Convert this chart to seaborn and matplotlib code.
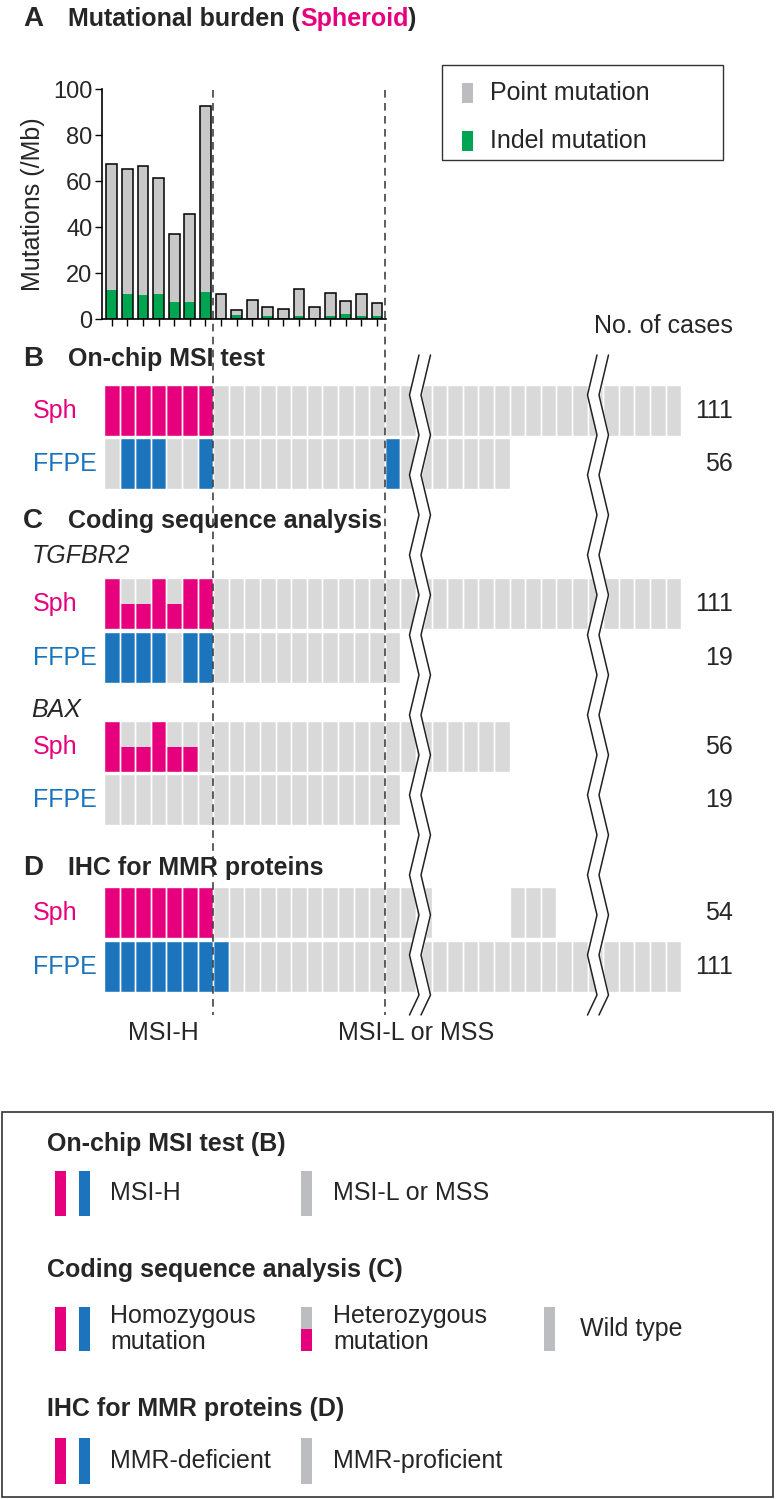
import numpy as np
import pandas as pd
import matplotlib
matplotlib.use('Agg')
import matplotlib.pyplot as plt
import seaborn as sns
from matplotlib.patches import Rectangle

# mutational burden per spheroid (panel A), mutations / Mb
burden_total = [67.3, 65.1, 66.6, 61.2, 37.1, 45.6, 92.7, 10.8, 3.8,
                8.4, 5.4, 4.5, 13.1, 5.4, 11.5, 7.8, 10.8, 6.8]
burden_indel = [12.8, 11.0, 10.3, 11.0, 7.3, 7.3, 11.9, 0.3, 1.9,
                0.3, 1.2, 0.3, 1.2, 0.3, 1.2, 2.0, 1.2, 1.2]

# one character per case: P = positive / homozygous, h = heterozygous,
# g = negative / wild type, . = not tested
msi_sph = "PPPPPPP" "gggggggggg" "gggggggggg" "gggggggggg"
msi_ffpe = "gPPPggP" "ggggggggggg" "P" "ggggggg"
tgfbr2_sph = "PhhPhPP" "gggggggggg" "gggggggggg" "gggggggggg"
tgfbr2_ffpe = "PPPPgPP" "gggggggggggg"
bax_sph = "PhhPhhg" "ggggggggggggggggggg"
bax_ffpe = "ggggggggggggggggggg"
ihc_sph = "PPPPPPP" "gggggggggggggg" "....." "ggg"
ihc_ffpe = "PPPPPPPP" "gggggggggg" "gggggggggg" "ggggggggg"
case_counts = ["111", "56", "111", "19", "56", "19", "54", "111"]

PINK = '#E6007E'
BLUE = '#1C75BC'
CELL_GRAY = '#D9D9D9'
BAR_GRAY = '#C8C8C8'
KEY_GRAY = '#BCBDC0'
GREEN = '#00A551'

W, H = 778, 1499
X0, CW = 104, 15.6       # left edge and width of one case cell (px)
ROW_H = 51

sns.set_theme(style='white')
plt.rcParams['font.family'] = ['Liberation Sans', 'DejaVu Sans']
FS = 18

fig = plt.figure(figsize=(W / 100, H / 100), dpi=100)

# cell grid: x in case units, y in pixels
grid = fig.add_axes([0, 0, 1, 1])
grid.set_xlim(-X0 / CW, (W - X0) / CW)
grid.set_ylim(H, 0)
grid.axis('off')


def draw_row(states, top, color):
    states = np.array(list(states))
    idx = np.arange(len(states))
    keep = states != '.'
    face = [color if s == 'P' else CELL_GRAY for s in states[keep]]
    grid.bar(idx[keep], ROW_H, bottom=top, width=1, align='edge',
             color=face, linewidth=0)
    het = states == 'h'
    grid.bar(idx[het], ROW_H / 2, bottom=top + ROW_H / 2, width=1,
             align='edge', color=color, linewidth=0)
    grid.bar(idx[keep], ROW_H, bottom=top, width=1, align='edge',
             fill=False, edgecolor='white', linewidth=1.0)


rows = [msi_sph, msi_ffpe, tgfbr2_sph, tgfbr2_ffpe, bax_sph, bax_ffpe,
        ihc_sph, ihc_ffpe]
row_tops = [385, 438, 578, 632, 721, 774, 887, 941]
for i, (states, top) in enumerate(zip(rows, row_tops)):
    draw_row(states, top, PINK if i % 2 == 0 else BLUE)

n_msi_h = msi_sph.count('P')
grid.vlines([n_msi_h, len(burden_total)], 90, 1015, colors='#333333',
            linestyles=(0, (5, 3.5)), linewidth=1.1)

# panel A bars
axA = fig.add_axes([102 / W, 1 - 319 / H, (386 - 102) / W, (319 - 89) / H])
axA.patch.set_alpha(0)
df = pd.DataFrame({'case': np.arange(len(burden_total)),
                   'total': burden_total, 'indel': burden_indel})
sns.barplot(data=df, x='case', y='total', color=BAR_GRAY, saturation=1,
            width=0.7, linewidth=0, errorbar=None, ax=axA)
sns.barplot(data=df, x='case', y='indel', color=GREEN, saturation=1,
            width=0.7, linewidth=0, errorbar=None, ax=axA)
sns.barplot(data=df, x='case', y='total', color='black', fill=False,
            width=0.7, linewidth=1.1, errorbar=None, ax=axA)
axA.set_xlim((102 - X0) / CW - 0.5, (386 - X0) / CW - 0.5)
axA.set_ylim(0, 100)
axA.set_yticks(range(0, 101, 20))
axA.set_xticks(df['case'])
axA.set_xticklabels([])
axA.set_xlabel('')
axA.set_ylabel('Mutations (/Mb)', fontsize=FS, labelpad=6)
axA.tick_params(axis='both', bottom=True, left=True, length=5, width=1,
                direction='out', color='black', labelsize=17, pad=2)
sns.despine(ax=axA)
for s in ['left', 'bottom']:
    axA.spines[s].set_linewidth(1.2)
    axA.spines[s].set_color('black')

# annotation layer in pixels
px = fig.add_axes([0, 0, 1, 1])
px.set_xlim(0, W)
px.set_ylim(H, 0)
px.axis('off')
px.patch.set_alpha(0)


def zigzag(xl, y0, y1, step=40, amp=9.5, gap=11.5):
    ys = np.append(np.arange(y0, y1, step), y1)
    off = np.where(np.arange(len(ys)) % 2 == 0, amp, 0)
    left = xl + off
    px.fill_betweenx(ys, left, left + gap, color='white', zorder=3)
    px.plot(left, ys, color='#222222', lw=1.1, zorder=4)
    px.plot(left + gap, ys, color='#222222', lw=1.1, zorder=4)


zigzag(409.5, 355, 1015)
zigzag(587.5, 355, 1015)

# titles
px.text(23, 26, 'A', fontsize=20, fontweight='bold', va='baseline')
t1 = px.text(68, 26, 'Mutational burden (', fontsize=FS, fontweight='bold',
             va='baseline')
t2 = px.annotate('Spheroid', xy=(1, 0), xycoords=t1, va='bottom',
                 fontsize=FS, fontweight='bold', color=PINK)
px.annotate(')', xy=(1, 0), xycoords=t2, va='bottom', fontsize=FS,
            fontweight='bold')

headers = [('B', 'On-chip MSI test', 366), ('C', 'Coding sequence analysis', 528),
           ('D', 'IHC for MMR proteins', 875)]
for letter, text, y in headers:
    px.text(23, y, letter, fontsize=20, fontweight='bold', va='baseline')
    px.text(68, y, text, fontsize=FS, fontweight='bold', va='baseline')

px.text(32, 563, 'TGFBR2', fontsize=FS, style='italic', va='baseline')
px.text(31, 717, 'BAX', fontsize=FS, style='italic', va='baseline')
px.text(733, 333, 'No. of cases', fontsize=FS, ha='right', va='baseline')

for i, (top, n) in enumerate(zip(row_tops, case_counts)):
    lab, col = ('Sph', PINK) if i % 2 == 0 else ('FFPE', BLUE)
    px.text(33, top + ROW_H / 2, lab, color=col, fontsize=FS, va='center')
    px.text(733, top + ROW_H / 2, n, fontsize=FS, ha='right', va='center')

px.text(163, 1040, 'MSI-H', fontsize=FS, ha='center', va='baseline')
px.text(416, 1040, 'MSI-L or MSS', fontsize=FS, ha='center', va='baseline')

# panel A key
px.add_patch(Rectangle((442, 65), 281, 95, fill=False, ec='#333333', lw=1.0))
px.add_patch(Rectangle((462, 83), 11, 20, color=KEY_GRAY, lw=0))
px.add_patch(Rectangle((462, 131), 11, 20, color=GREEN, lw=0))
px.text(490, 93, 'Point mutation', fontsize=FS, va='center')
px.text(490, 141, 'Indel mutation', fontsize=FS, va='center')

# bottom key
px.add_patch(Rectangle((2, 1112), 771, 385, fill=False, ec='#333333', lw=1.2))


def key_patch(x, y0, y1, color, lower=None):
    px.add_patch(Rectangle((x, y0), 11.5, y1 - y0, color=color, lw=0))
    if lower:
        px.add_patch(Rectangle((x, (y0 + y1) / 2), 11.5, (y1 - y0) / 2,
                               color=lower, lw=0))


key_rows = [
    ('On-chip MSI test (B)', 1151, 1171, 1216,
     [(110, 'MSI-H'), (333, 'MSI-L or MSS')]),
    ('Coding sequence analysis (C)', 1277, 1307, 1351,
     [(110, 'Homozygous\nmutation'), (333, 'Heterozygous\nmutation'),
      (580, 'Wild type')]),
    ('IHC for MMR proteins (D)', 1416, 1438, 1484,
     [(110, 'MMR-deficient'), (333, 'MMR-proficient')]),
]
for title, yb, y0, y1, items in key_rows:
    px.text(47, yb, title, fontsize=FS, fontweight='bold', va='baseline')
    key_patch(55, y0, y1, PINK)
    key_patch(79, y0, y1, BLUE)
    key_patch(301, y0, y1, KEY_GRAY, lower=PINK if len(items) == 3 else None)
    if len(items) == 3:
        key_patch(544, y0, y1, KEY_GRAY)
    for x, lab in items:
        px.text(x, (y0 + y1) / 2, lab, fontsize=FS, va='center',
                linespacing=1.15)

fig.savefig('out.png', dpi=100)
